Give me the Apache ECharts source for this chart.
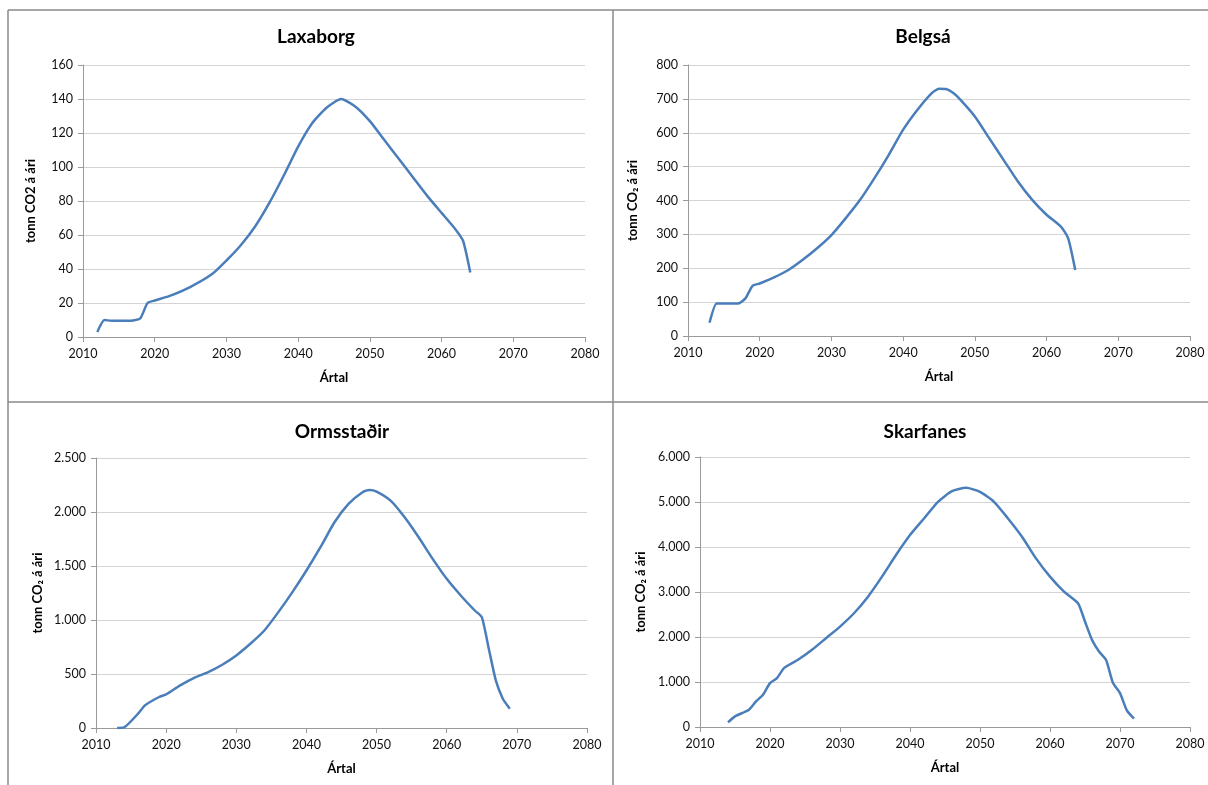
<!DOCTYPE html>
<html><head><meta charset="utf-8">
<script src="https://cdn.jsdelivr.net/npm/echarts@6/dist/echarts.min.js"></script>
<style>html,body{margin:0;padding:0;background:#fff}#c{width:1208px;height:785px}</style>
</head><body><div id="c"></div>
<script>
const titles = ['Laxaborg', 'Belgsá', 'Ormsstaðir', 'Skarfanes'];
const yNames = ['tonn CO2 á ári', 'tonn CO₂ á ári', 'tonn CO₂ á ári', 'tonn CO₂ á ári'];
const xTitle = 'Ártal';
const yMax = [160, 800, 2500, 6000];
const yStep = [20, 100, 500, 1000];

const laxaborgYears = [2012,2013,2014,2015,2016,2017,2018,2019,2020,2022,2025,2028,2030,2032,2034,2036,2038,2040,2042,2044,2046,2048,2050,2052,2054,2056,2058,2060,2062,2063,2064];
const laxaborgVals  = [3,10,9.5,9.5,9.5,9.7,11,20,21.5,24,29.5,37,45,54,65,79,95,112,126,135,140,135.5,127,116,105,94,83,73,63,56.5,38];

const belgsaYears = [2013,2014,2015,2016,2017,2018,2019,2020,2022,2024,2026,2028,2030,2032,2034,2036,2038,2040,2042,2044,2045,2046,2047,2048,2050,2052,2054,2056,2058,2060,2062,2063,2064];
const belgsaVals  = [39,96,96,96,96,111,148,155,173,195,225,259,298,348,402,466,535,609,668,717,730,729,717,697,648,584,520,456,402,358,323,289,195];

const ormsYears = [2013,2014,2016,2017,2019,2020,2022,2024,2026,2028,2030,2032,2034,2036,2038,2040,2042,2044,2046,2048,2049,2050,2052,2054,2056,2058,2060,2062,2064,2065,2066,2067,2068,2069];
const ormsVals  = [0,5,133,210,287,311,395,465,518,586,672,780,903,1073,1258,1458,1674,1905,2075,2183,2204,2189,2105,1951,1766,1566,1381,1227,1088,1026,734,441,271,179];

const skarfYears = [2014,2015,2017,2018,2019,2020,2021,2022,2024,2026,2028,2030,2032,2034,2036,2038,2040,2042,2044,2046,2048,2050,2052,2054,2056,2058,2060,2062,2064,2065,2066,2067,2068,2069,2070,2071,2072];
const skarfVals  = [103,237,384,569,717,976,1086,1308,1493,1715,1973,2232,2528,2897,3341,3821,4265,4634,5004,5240,5314,5225,5004,4634,4228,3747,3341,3008,2749,2343,1936,1678,1493,976,754,362,185];

const seriesYears = [laxaborgYears, belgsaYears, ormsYears, skarfYears];
const seriesVals = [laxaborgVals, belgsaVals, ormsVals, skarfVals];

const grids = [
  {left: 83, right: 623, top: 65, bottom: 448},
  {left: 688, right: 18, top: 65, bottom: 449},
  {left: 96, right: 621, top: 458, bottom: 57},
  {left: 700, right: 18, top: 457, bottom: 58}
];
const titlePos = [{x: 311, y: 22}, {x: 918, y: 22}, {x: 337, y: 417}, {x: 920, y: 417}];
const yNameGap = [46, 49, 52, 53];

const FONT = 'Lato, "Open Sans", sans-serif';
function fmt(v) { return String(v).replace(/\B(?=(\d{3})+(?!\d))/g, '.'); }

const option = {
  animation: false,
  backgroundColor: '#fff',
  title: titles.map((t, i) => ({
    text: t, left: titlePos[i].x, top: titlePos[i].y, textAlign: 'center',
    textStyle: {fontFamily: FONT, fontWeight: 'bold', fontSize: 19, color: '#000'}
  })),
  grid: grids,
  xAxis: grids.map((g, i) => ({
    gridIndex: i, type: 'value', min: 2010, max: 2080, interval: 10,
    name: xTitle, nameLocation: 'middle', nameGap: 34,
    nameTextStyle: {fontFamily: FONT, fontWeight: 'bold', fontSize: 13, color: '#000'},
    axisLine: {show: true, lineStyle: {color: '#9a9a9a', width: 1}},
    axisTick: {show: true, length: 5, lineStyle: {color: '#9a9a9a'}},
    axisLabel: {fontFamily: FONT, fontSize: 12.5, color: '#111', margin: 10, formatter: v => String(v)},
    splitLine: {show: false}
  })),
  yAxis: grids.map((g, i) => ({
    gridIndex: i, type: 'value', min: 0, max: yMax[i], interval: yStep[i],
    name: yNames[i], nameLocation: 'middle', nameGap: yNameGap[i],
    nameTextStyle: {fontFamily: FONT, fontWeight: 'bold', fontSize: 13, color: '#000'},
    axisLine: {show: true, lineStyle: {color: '#9a9a9a', width: 1}},
    axisTick: {show: true, length: 5, lineStyle: {color: '#9a9a9a'}},
    axisLabel: {fontFamily: FONT, fontSize: 12.5, color: '#111', margin: 10, formatter: fmt},
    splitLine: {show: true, lineStyle: {color: '#d4d4d4', width: 1}}
  })),
  series: seriesVals.map((vals, i) => ({
    type: 'line', xAxisIndex: i, yAxisIndex: i,
    data: vals.map((v, k) => [seriesYears[i][k], v]),
    smooth: 0.2, showSymbol: false,
    lineStyle: {color: '#4a7ebb', width: 2.5},
    itemStyle: {color: '#4a7ebb'}
  })),
  graphic: [
    {type: 'line', shape: {x1: 8, y1: 10, x2: 1208, y2: 10}, style: {stroke: '#8a8a8a', lineWidth: 1.5}},
    {type: 'line', shape: {x1: 8, y1: 10, x2: 8, y2: 785}, style: {stroke: '#8a8a8a', lineWidth: 1.5}},
    {type: 'line', shape: {x1: 613, y1: 10, x2: 613, y2: 785}, style: {stroke: '#8a8a8a', lineWidth: 1.5}},
    {type: 'line', shape: {x1: 8, y1: 402, x2: 1208, y2: 402}, style: {stroke: '#8a8a8a', lineWidth: 1.5}}
  ]
};
const chart = echarts.init(document.getElementById('c'), null, {renderer: 'canvas'});
chart.setOption(option);
</script></body></html>
